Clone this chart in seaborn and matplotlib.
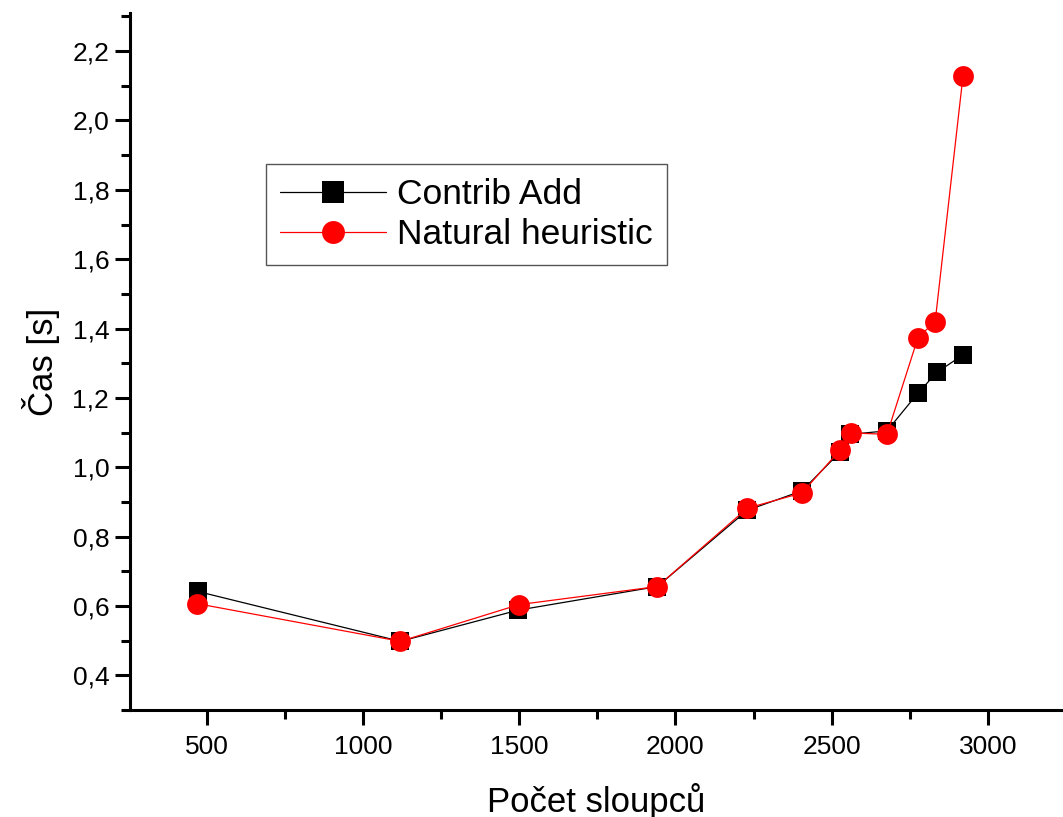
import matplotlib
matplotlib.use("Agg")
import matplotlib.pyplot as plt
import seaborn as sns
import pandas as pd
from matplotlib.ticker import MultipleLocator, FixedLocator, FixedFormatter

# ---- data ----
x_contrib = [471, 1120, 1497, 1942, 2230, 2405, 2527, 2559, 2677, 2776, 2837, 2920]
y_contrib = [0.642, 0.498, 0.588, 0.656, 0.876, 0.932, 1.044, 1.095, 1.105, 1.214, 1.274, 1.324]

x_natural = [468, 1120, 1500, 1942, 2230, 2405, 2527, 2562, 2677, 2776, 2831, 2920]
y_natural = [0.607, 0.498, 0.604, 0.656, 0.882, 0.926, 1.050, 1.099, 1.095, 1.374, 1.420, 2.128]

series_names = ["Contrib Add", "Natural heuristic"]
x_tick_values = [500, 1000, 1500, 2000, 2500, 3000]
x_tick_labels = ["500", "1000", "1500", "2000", "2500", "3000"]
y_tick_values = [0.4, 0.6, 0.8, 1.0, 1.2, 1.4, 1.6, 1.8, 2.0, 2.2]
y_tick_labels = ["0,4", "0,6", "0,8", "1,0", "1,2", "1,4", "1,6", "1,8", "2,0", "2,2"]
x_label = "Počet sloupců"
y_label = "Čas [s]"

sns.set_style("ticks")
plt.rcParams["font.family"] = ["Liberation Sans", "DejaVu Sans"]
plt.rcParams["text.color"] = "black"
plt.rcParams["axes.labelcolor"] = "black"
plt.rcParams["xtick.color"] = "black"
plt.rcParams["ytick.color"] = "black"
plt.rcParams["xtick.labelcolor"] = "black"
plt.rcParams["ytick.labelcolor"] = "black"

df = pd.concat([
    pd.DataFrame({"x": x_contrib, "y": y_contrib, "series": series_names[0]}),
    pd.DataFrame({"x": x_natural, "y": y_natural, "series": series_names[1]}),
], ignore_index=True)

fig = plt.figure(figsize=(10.63, 8.17), dpi=100)
ax = fig.add_axes([130 / 1063, 1 - 710 / 817, 1 - 130 / 1063, (710 - 13) / 817])

sns.lineplot(data=df[df.series == series_names[0]], x="x", y="y", ax=ax,
             color="black", lw=0.9, marker="s", markersize=12.5,
             markeredgewidth=0, label=series_names[0], zorder=3)
sns.lineplot(data=df[df.series == series_names[1]], x="x", y="y", ax=ax,
             color="red", lw=0.9, marker="o", markersize=15,
             markeredgewidth=0, label=series_names[1], zorder=4)

ax.set_xlim(255, 3240)
ax.set_ylim(0.3, 2.31)

ax.xaxis.set_major_locator(FixedLocator(x_tick_values))
ax.xaxis.set_major_formatter(FixedFormatter(x_tick_labels))
ax.xaxis.set_minor_locator(MultipleLocator(250))
ax.yaxis.set_major_locator(FixedLocator(y_tick_values))
ax.yaxis.set_major_formatter(FixedFormatter(y_tick_labels))
ax.yaxis.set_minor_locator(MultipleLocator(0.1))

for s in ["top", "right"]:
    ax.spines[s].set_visible(False)
for s in ["left", "bottom"]:
    ax.spines[s].set_linewidth(2.2)
    ax.spines[s].set_color("black")

ax.tick_params(which="major", direction="out", length=11, width=2.2,
               labelsize=19, color="black", labelcolor="black")
ax.tick_params(which="minor", direction="out", length=6.5, width=2.2, color="black")
ax.tick_params(axis="x", which="major", pad=7)
ax.tick_params(axis="y", which="major", pad=4)

ax.set_xlabel(x_label, fontsize=25, labelpad=17, color="black")
ax.set_ylabel(y_label, fontsize=25, labelpad=9, color="black")

leg = ax.legend(loc="upper left", bbox_to_anchor=(266 / 1063, 1 - 164 / 817),
                bbox_transform=fig.transFigure, fontsize=25.5, frameon=True,
                fancybox=False, edgecolor="#555555", framealpha=1,
                handlelength=3.0, handletextpad=0.29, borderpad=0.4,
                labelspacing=0.2, borderaxespad=0)
leg.get_frame().set_linewidth(1.0)
for t in leg.get_texts():
    t.set_color("black")
for h, ms in zip(leg.legend_handles, [15.5, 16.5]):
    h.set_markersize(ms)

fig.savefig("out.png", dpi=100, facecolor="white")
